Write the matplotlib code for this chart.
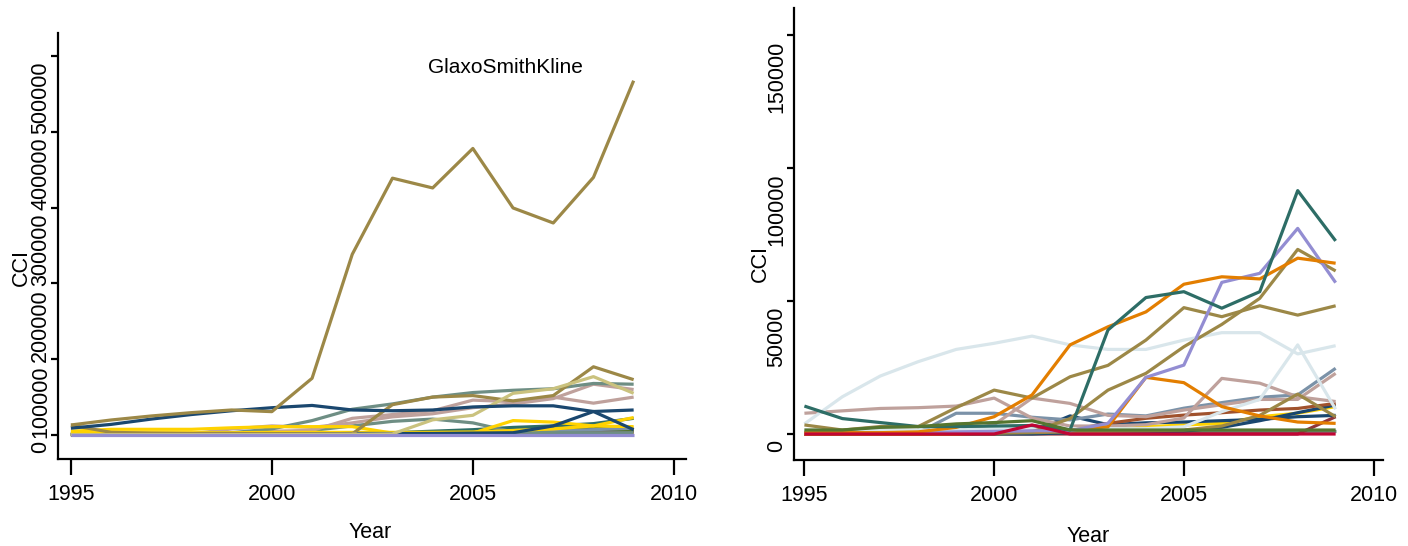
import numpy as np
import matplotlib
matplotlib.use('Agg')
import matplotlib.pyplot as plt
from matplotlib.transforms import ScaledTranslation

plt.rcParams['font.family'] = ['Liberation Sans', 'DejaVu Sans']

years = np.arange(1995, 2010)

# stata s2color palette
navy = '#1a476f'
maroon = '#90353b'
forest_green = '#55752f'
dkorange = '#e37e00'
teal = '#6e8e84'
cranberry = '#c10534'
lavender = '#938dd2'
khaki = '#cac27e'
sienna = '#a0522d'
emidblue = '#7b92a8'
emerald = '#2d6d66'
brown = '#9c8847'
erose = '#bfa19c'
gold = '#ffd200'
bluishgray = '#d9e6eb'

# ---- left panel: all firms ----
gsk = [13200, 19800, 25100, 29500, 33000, 30800, 74800, 238400, 338800, 325900, 378000, 299500, 279700, 339800, 467400]
l_navy_a = [9000, 14000, 21000, 27000, 32000, 36000, 39000, 33000, 32000, 33000, 37000, 38500, 38500, 31000, 33000]
l_brown_b = [13000, 3500, 2500, 2000, 2000, 1500, 1500, 1500, 40000, 50000, 52000, 45000, 52000, 90000, 73000]
l_teal_a = [1500, 1500, 1500, 2000, 3000, 8000, 19000, 34000, 41000, 50000, 56000, 59000, 61000, 68000, 67000]
l_teal_b = [1000, 1000, 1000, 1500, 2000, 3000, 6000, 12000, 18000, 21000, 16000, 4000, 3000, 3000, 3000]
l_erose_a = [1000, 1000, 1000, 1500, 8000, 12000, 10000, 16000, 24000, 28000, 36000, 41000, 48000, 67000, 60000]
l_erose_b = [800, 800, 800, 1000, 3000, 5000, 6000, 22000, 27000, 32000, 46000, 44000, 50000, 42000, 50000]
l_khaki = [500, 500, 500, 500, 500, 500, 800, 1000, 1500, 20000, 26000, 55000, 61000, 77000, 55000]
l_navy_b = [500, 500, 500, 500, 500, 1000, 1500, 2000, 2000, 2000, 2500, 3000, 12000, 31000, 7000]
l_gold_a = [5000, 7500, 7500, 7500, 9500, 11000, 11000, 11000, 2500, 2500, 2500, 19000, 17000, 12000, 11000]
l_gold_b = [3000, 3000, 3000, 3000, 3000, 3500, 3500, 3500, 3500, 3500, 4000, 6000, 8000, 12000, 23000]
l_emerald = [500, 500, 500, 500, 1000, 1500, 2000, 2500, 3000, 5000, 7000, 10000, 12000, 15000, 22000]
l_green = [1500, 1500, 1500, 1500, 1500, 2000, 2000, 2500, 3000, 3500, 4000, 6000, 8000, 9000, 6000]
l_orange = [500, 500, 500, 1000, 1500, 4000, 3500, 1500, 1000, 1000, 1000, 1000, 1500, 2000, 2500]
l_maroon = [0, 0, 0, 0, 0, 0, 500, 500, 500, 1000, 1500, 3000, 5000, 5500, 5000]
l_emidblue = [300, 300, 300, 300, 500, 800, 1000, 1000, 1500, 2000, 2500, 3500, 5000, 7000, 9000]
l_lavender = [0] * 15

left_series = [
    (l_orange, dkorange), (l_maroon, maroon), (l_green, forest_green),
    (l_emidblue, emidblue), (l_emerald, emerald), (l_teal_b, teal),
    (l_erose_b, erose), (l_erose_a, erose), (l_teal_a, teal),
    (l_gold_b, gold), (l_gold_a, gold), (l_navy_b, navy),
    (l_brown_b, brown), (l_khaki, khaki), (l_navy_a, navy),
    (gsk, brown), (l_lavender, lavender),
]

# ---- right panel: without GSK ----
r_bgray_a = [3800, 14000, 21800, 27200, 31800, 34100, 36800, 33500, 31800, 31800, 35300, 38100, 38100, 30100, 33200]
r_bgray_b = [1500, 1500, 1500, 1500, 1500, 2000, 2000, 2000, 2000, 2000, 2700, 8400, 13000, 33500, 9300]
r_emerald = [10500, 5800, 4300, 2800, 2800, 3000, 3200, 1500, 39100, 51300, 53500, 47300, 53500, 91500, 72600]
r_lavender = [500, 500, 500, 500, 800, 1000, 1200, 1200, 4000, 21300, 25900, 57000, 60400, 77300, 56900]
r_orange_a = [500, 500, 500, 800, 2500, 6500, 14700, 33500, 40300, 45900, 56300, 59100, 58300, 66100, 64200]
r_orange_b = [0, 0, 0, 0, 0, 500, 1000, 1500, 2700, 21300, 19300, 10300, 6800, 4500, 4000]
r_brown_a = [3400, 1500, 2800, 2800, 9900, 16500, 13500, 21500, 25800, 35300, 47500, 44100, 48200, 44700, 48200]
r_brown_b = [500, 500, 500, 500, 500, 500, 800, 5800, 16500, 22800, 32800, 41200, 51000, 69400, 61300]
r_brown_c = [300, 300, 300, 300, 300, 300, 500, 800, 1000, 1200, 1500, 3000, 7000, 15000, 6500]
r_erose_a = [7800, 8700, 9600, 9900, 10500, 13500, 6000, 3000, 3000, 3500, 6000, 20900, 19100, 14000, 12200]
r_erose_b = [500, 500, 500, 500, 1000, 3500, 13500, 11500, 7000, 6500, 9000, 11000, 13000, 13000, 22800]
r_emidblue = [500, 500, 500, 500, 7800, 7800, 6300, 5300, 7500, 6800, 9700, 11800, 13800, 14700, 24700]
r_sienna = [0, 0, 0, 0, 0, 500, 1000, 1500, 4000, 5900, 7100, 8000, 9000, 9600, 11500]
r_navy_a = [0, 0, 0, 0, 0, 500, 1000, 6800, 3500, 4200, 4500, 5000, 5500, 6500, 7000]
r_navy_b = [0, 0, 0, 0, 0, 0, 0, 500, 500, 800, 1000, 2500, 5000, 8000, 10900]
r_gold = [0, 0, 0, 0, 0, 0, 500, 1000, 1500, 2700, 3400, 4000, 6500, 7800, 10300]
r_green = [1500, 1500, 2500, 2800, 3800, 4300, 5000, 1500, 1500, 1500, 1500, 1500, 1500, 1500, 1500]
r_teal = [1000] * 15
r_maroon = [0] * 14 + [6500]
r_cranberry = [0, 0, 0, 0, 0, 0, 3400, 0, 0, 0, 0, 0, 0, 0, 0]

right_series = [
    (r_teal, teal), (r_maroon, maroon), (r_gold, gold), (r_navy_b, navy),
    (r_navy_a, navy), (r_sienna, sienna), (r_emidblue, emidblue),
    (r_erose_b, erose), (r_erose_a, erose), (r_brown_c, brown),
    (r_bgray_b, bluishgray), (r_bgray_a, bluishgray), (r_orange_b, dkorange),
    (r_brown_a, brown), (r_brown_b, brown), (r_lavender, lavender),
    (r_orange_a, dkorange), (r_emerald, emerald), (r_green, forest_green),
    (r_cranberry, cranberry),
]

W, H = 1408, 546
fig = plt.figure(figsize=(W / 100, H / 100), dpi=100)
ax1 = fig.add_axes([58.3 / W, (H - 459) / H, (685.5 - 58.3) / W, (459 - 32.7) / H])
ax2 = fig.add_axes([794.4 / W, (H - 460) / H, (1383 - 794.4) / W, (460 - 7.7) / H])

for vals, c in left_series:
    ax1.plot(years, vals, color=c, lw=2.3, solid_capstyle='butt')
for vals, c in right_series:
    ax2.plot(years, vals, color=c, lw=2.3, solid_capstyle='butt')

ax1.text(2005.8, 484800, 'GlaxoSmithKline', fontsize=15, ha='center', va='center')

ax1.set_xlim(1994.687, 2010.29)
ax1.set_ylim(-31660, 530700)
ax2.set_xlim(1994.736, 2010.248)
ax2.set_ylim(-9774, 160260)

ax1.set_yticks([0, 100000, 200000, 300000, 400000, 500000])
ax1.set_yticklabels(['0', '100000', '200000', '300000', '400000', '500000'])
ax2.set_yticks([0, 50000, 100000, 150000])
ax2.set_yticklabels(['0', '50000', '100000', '150000'])

down = ScaledTranslation(0, -0.06, fig.dpi_scale_trans)
for ax in (ax1, ax2):
    for s in ['top', 'right']:
        ax.spines[s].set_visible(False)
    for s in ['left', 'bottom']:
        ax.spines[s].set_linewidth(1.6)
    ax.set_xticks([1995, 2000, 2005, 2010])
    ax.tick_params(axis='x', length=11.5, width=1.6, pad=6.5, labelsize=15.5)
    ax.tick_params(axis='y', length=5, width=1.6, pad=0, labelsize=15.5)
    for lab in ax.get_yticklabels():
        lab.set_rotation(90)
        lab.set_va('top')
        lab.set_transform(lab.get_transform() + down)

fig.text(21 / W, (H - 268) / H, 'CCI', rotation=90, fontsize=15.5, ha='center', va='center')
fig.text(760 / W, (H - 263) / H, 'CCI', rotation=90, fontsize=15.5, ha='center', va='center')
fig.text(370.5 / W, (H - 532) / H, 'Year', fontsize=15.5, ha='center', va='center')
fig.text(1088 / W, (H - 537) / H, 'Year', fontsize=15.5, ha='center', va='center')

fig.savefig('out.png', dpi=100)
